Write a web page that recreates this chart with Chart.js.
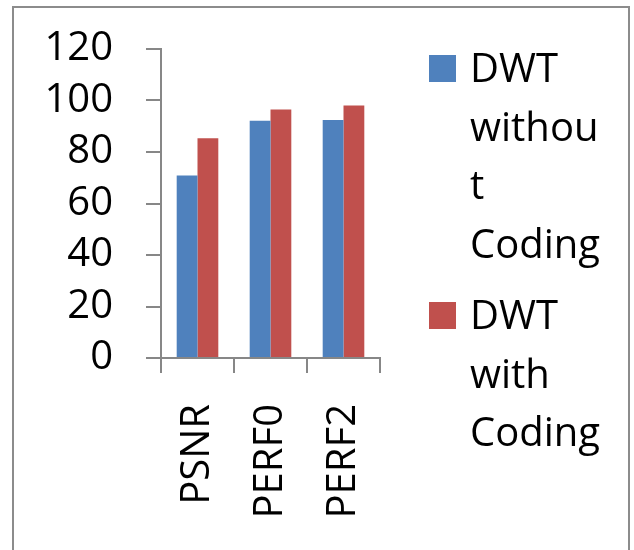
<!DOCTYPE html>
<html>
<head>
<meta charset="utf-8">
<script src="https://cdn.jsdelivr.net/npm/chart.js@4"></script>
<style>
  html, body { margin: 0; padding: 0; background: #ffffff; }
  #wrap { position: relative; width: 634px; height: 550px; overflow: hidden; background: #ffffff; }
  #frame { position: absolute; left: 12px; top: 6px; width: 618px; height: 580px; border: 2px solid #8c8c8c; box-sizing: border-box; }
  canvas { position: absolute; left: 0; top: 0; }
</style>
</head>
<body>
<div id="wrap">
  <div id="frame"></div>
  <canvas id="c" width="634" height="550"></canvas>
</div>
<script>
const categories = ["PSNR", "PERF0", "PERF2"];
const seriesNames = ["DWT without Coding", "DWT with Coding"];
const withoutCoding = [70.9, 92.1, 92.4];
const withCoding = [85.3, 96.5, 98.1];
const yTicks = [0, 20, 40, 60, 80, 100, 120];
const seriesColors = ["#4F81BD", "#C0504D"];

const FONT = "'Open Sans', sans-serif";
const AXIS = "#878787";

function wrapText(ctx, text, maxW) {
  const words = text.split(" ");
  const lines = [];
  let cur = "";
  for (const w of words) {
    const trial = cur ? cur + " " + w : w;
    if (ctx.measureText(trial).width <= maxW) { cur = trial; continue; }
    if (cur) { lines.push(cur); cur = ""; }
    if (ctx.measureText(w).width <= maxW) { cur = w; continue; }
    let part = "";
    for (const ch of w) {
      if (ctx.measureText(part + ch).width <= maxW) part += ch;
      else { lines.push(part); part = ch; }
    }
    cur = part;
  }
  if (cur) lines.push(cur);
  return lines;
}

const legendPlugin = {
  id: "sideLegend",
  afterDraw(chart) {
    const ctx = chart.ctx;
    ctx.save();
    ctx.font = "40px " + FONT;
    ctx.fillStyle = "#000000";
    ctx.textAlign = "left";
    ctx.textBaseline = "alphabetic";
    const lineH = 58.5;
    const entryGap = 13;
    let baseline = 82;
    chart.data.datasets.forEach((ds) => {
      ctx.fillStyle = ds.backgroundColor;
      ctx.fillRect(429, baseline - 27, 27, 27);
      ctx.fillStyle = "#000000";
      const lines = wrapText(ctx, ds.label, 138);
      lines.forEach((ln, i) => {
        ctx.fillText(ln, 470, baseline + i * lineH);
      });
      baseline += lines.length * lineH + entryGap;
    });
    ctx.restore();
  }
};

new Chart(document.getElementById("c"), {
  type: "bar",
  data: {
    labels: categories,
    datasets: [
      { label: seriesNames[0], data: withoutCoding, backgroundColor: seriesColors[0] },
      { label: seriesNames[1], data: withCoding, backgroundColor: seriesColors[1] }
    ]
  },
  options: {
    responsive: false,
    animation: false,
    devicePixelRatio: 1,
    layout: { padding: { left: 12, right: 254, top: 49, bottom: 12 } },
    datasets: { bar: { categoryPercentage: 0.57, barPercentage: 1.0, borderWidth: 0 } },
    plugins: { legend: { display: false }, tooltip: { enabled: false } },
    scales: {
      x: {
        grid: { display: true, drawOnChartArea: false, drawTicks: true, tickLength: 15, color: AXIS, lineWidth: 2, offset: true },
        border: { display: true, color: AXIS, width: 2 },
        ticks: { font: { family: FONT, size: 40 }, color: "#000000", maxRotation: 90, minRotation: 90, padding: 31, autoSkip: false },
        afterFit(scale) { scale.height = 180; scale.paddingLeft = 0; scale.paddingRight = 0; scale.paddingTop = 0; scale.paddingBottom = 0; }
      },
      y: {
        min: 0, max: 120,
        afterBuildTicks(scale) { scale.ticks = yTicks.map(v => ({ value: v })); },
        grid: { display: true, drawOnChartArea: false, drawTicks: true, tickLength: 15, color: AXIS, lineWidth: 2 },
        border: { display: true, color: AXIS, width: 2 },
        ticks: { font: { family: FONT, size: 40 }, color: "#000000", padding: 33, autoSkip: false },
        afterFit(scale) { scale.width = 149; scale.paddingTop = 0; scale.paddingBottom = 0; scale.paddingLeft = 0; scale.paddingRight = 0; }
      }
    }
  },
  plugins: [legendPlugin]
});
</script>
</body>
</html>
